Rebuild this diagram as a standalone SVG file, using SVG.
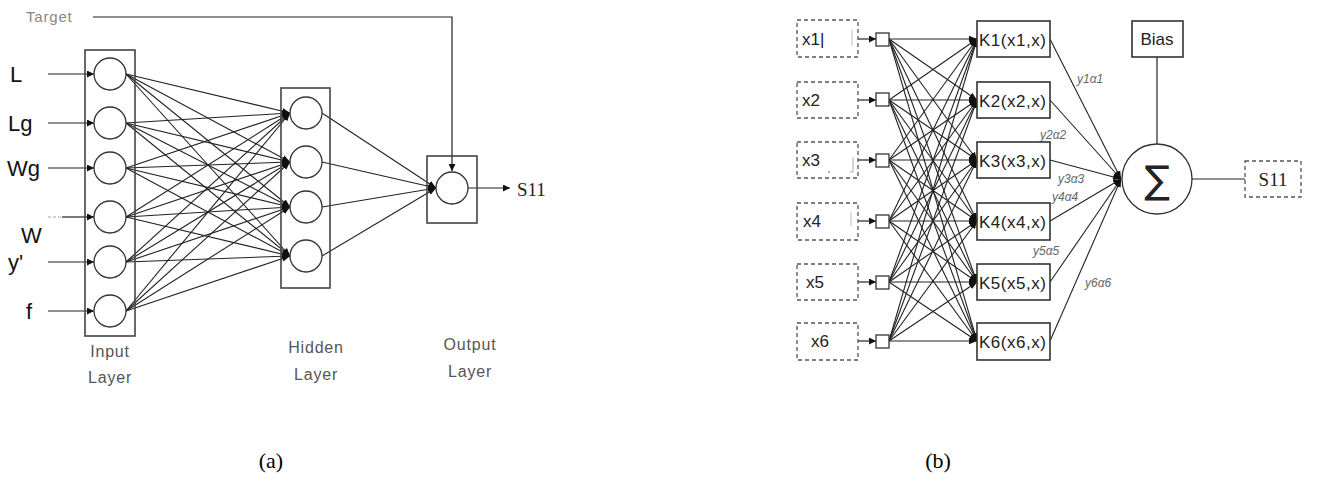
<svg xmlns="http://www.w3.org/2000/svg" width="1324" height="481" viewBox="0 0 1324 481">
<style>
.box{fill:none;stroke:#444;stroke-width:1.6}
.neuron{fill:#fff;stroke:#333;stroke-width:1.3}
.dbox{fill:#fff;stroke:#555;stroke-width:1.3;stroke-dasharray:4,3}
.kbox{fill:#fff;stroke:#333;stroke-width:1.6}
.sq{fill:#fff;stroke:#333;stroke-width:1.3}
.ln{fill:none;stroke:#222;stroke-width:1.2}
.lnA{fill:none;stroke:#222;stroke-width:1.2;marker-end:url(#ah)}
.lnD{fill:none;stroke:#222;stroke-width:1.1;marker-end:url(#dot)}
.lbl{font-family:"Liberation Sans",Arial,sans-serif;font-size:22px;fill:#111}
.gray{font-family:"Liberation Sans",Arial,sans-serif;font-size:16px;fill:#555;letter-spacing:0.8px}
.btxt{font-family:"Liberation Sans",Arial,sans-serif;font-size:17px;fill:#222}
.wt{font-family:"Liberation Sans",Arial,sans-serif;font-size:12px;font-style:italic;fill:#666}
.cap{font-family:"Liberation Serif","Times New Roman",serif;font-size:22px;fill:#000}
</style>
<defs>
<marker id="ah" viewBox="0 0 10 10" refX="10" refY="5" markerWidth="7" markerHeight="7" markerUnits="userSpaceOnUse" orient="auto"><path d="M0,0 L10,5 L0,10 z" fill="#111"/></marker>
<marker id="dot" viewBox="0 0 10 10" refX="10" refY="5" markerWidth="8" markerHeight="8" markerUnits="userSpaceOnUse" orient="auto"><path d="M0,1 L10,5 L0,9 z" fill="#111"/></marker>
</defs>

<!-- ===== Diagram (a) ===== -->
<g id="connectors-a">
<polyline class="lnA" points="93,17 452,17 452,171"/>
<line class="lnA" x1="48" y1="74" x2="94" y2="74"/>
<line class="lnA" x1="48" y1="123" x2="94" y2="123"/>
<line class="lnA" x1="48" y1="168" x2="94" y2="168"/>
<line x1="48" y1="217" x2="62" y2="217" stroke="#aaa" stroke-width="1.2" stroke-dasharray="3,2"/>
<line class="lnA" x1="62" y1="217" x2="94" y2="217"/>
<line class="lnA" x1="48" y1="262" x2="94" y2="262"/>
<line class="lnA" x1="48" y1="311" x2="94" y2="311"/>
<g>
<line class="lnD" x1="126" y1="74" x2="290" y2="113"/><line class="lnD" x1="126" y1="74" x2="290" y2="162"/><line class="lnD" x1="126" y1="74" x2="290" y2="207"/><line class="lnD" x1="126" y1="74" x2="290" y2="256"/>
<line class="lnD" x1="126" y1="123" x2="290" y2="113"/><line class="lnD" x1="126" y1="123" x2="290" y2="162"/><line class="lnD" x1="126" y1="123" x2="290" y2="207"/><line class="lnD" x1="126" y1="123" x2="290" y2="256"/>
<line class="lnD" x1="126" y1="168" x2="290" y2="113"/><line class="lnD" x1="126" y1="168" x2="290" y2="162"/><line class="lnD" x1="126" y1="168" x2="290" y2="207"/><line class="lnD" x1="126" y1="168" x2="290" y2="256"/>
<line class="lnD" x1="126" y1="217" x2="290" y2="113"/><line class="lnD" x1="126" y1="217" x2="290" y2="162"/><line class="lnD" x1="126" y1="217" x2="290" y2="207"/><line class="lnD" x1="126" y1="217" x2="290" y2="256"/>
<line class="lnD" x1="126" y1="262" x2="290" y2="113"/><line class="lnD" x1="126" y1="262" x2="290" y2="162"/><line class="lnD" x1="126" y1="262" x2="290" y2="207"/><line class="lnD" x1="126" y1="262" x2="290" y2="256"/>
<line class="lnD" x1="126" y1="311" x2="290" y2="113"/><line class="lnD" x1="126" y1="311" x2="290" y2="162"/><line class="lnD" x1="126" y1="311" x2="290" y2="207"/><line class="lnD" x1="126" y1="311" x2="290" y2="256"/>
</g>
<line class="lnD" x1="322" y1="113" x2="436" y2="188"/>
<line class="lnD" x1="322" y1="162" x2="436" y2="188"/>
<line class="lnD" x1="322" y1="207" x2="436" y2="188"/>
<line class="lnD" x1="322" y1="256" x2="436" y2="188"/>
<line class="lnA" x1="468" y1="188" x2="510" y2="188"/>
</g>

<g id="target-label"><text x="26" y="22" font-family="Liberation Sans,Arial,sans-serif" font-size="15" fill="#888" letter-spacing="0.8">Target</text></g>

<g id="input-labels">
<text class="lbl" x="10" y="82">L</text>
<text class="lbl" x="8" y="131">Lg</text>
<text class="lbl" x="7" y="176">Wg</text>
<text class="lbl" x="21" y="243">W</text>
<text class="lbl" x="8" y="270">y'</text>
<text class="lbl" x="26" y="319">f</text>
</g>

<g id="input-layer">
<rect class="box" x="85" y="50" width="50" height="286"/>
<circle class="neuron" cx="110" cy="74" r="16"/>
<circle class="neuron" cx="110" cy="123" r="16"/>
<circle class="neuron" cx="110" cy="168" r="16"/>
<circle class="neuron" cx="110" cy="217" r="16"/>
<circle class="neuron" cx="110" cy="262" r="16"/>
<circle class="neuron" cx="110" cy="311" r="16"/>
<text class="gray" x="110" y="357" text-anchor="middle">Input</text>
<text class="gray" x="110" y="383" text-anchor="middle">Layer</text>
</g>

<g id="hidden-layer">
<rect class="box" x="281" y="88" width="49" height="200"/>
<circle class="neuron" cx="306" cy="113" r="16"/>
<circle class="neuron" cx="306" cy="162" r="16"/>
<circle class="neuron" cx="306" cy="207" r="16"/>
<circle class="neuron" cx="306" cy="256" r="16"/>
<text class="gray" x="316" y="353" text-anchor="middle">Hidden</text>
<text class="gray" x="316" y="380" text-anchor="middle">Layer</text>
</g>

<g id="output-layer">
<rect class="box" x="427" y="156" width="50" height="67"/>
<circle class="neuron" cx="452" cy="188" r="16"/>
<text class="gray" x="470" y="350" text-anchor="middle" fill="#888">Output</text>
<text class="gray" x="470" y="377" text-anchor="middle">Layer</text>
</g>

<g id="output-s11-a"><text x="517" y="196" font-family="Liberation Serif,serif" font-size="19" fill="#222">S11</text></g>

<!-- ===== Diagram (b) ===== -->
<g id="connectors-b">
<line class="lnA" x1="858" y1="39" x2="876" y2="39"/>
<line class="lnA" x1="858" y1="100" x2="876" y2="100"/>
<line class="lnA" x1="858" y1="160" x2="876" y2="160"/>
<line class="lnA" x1="858" y1="221" x2="876" y2="221"/>
<line class="lnA" x1="858" y1="282" x2="876" y2="282"/>
<line class="lnA" x1="858" y1="341" x2="876" y2="341"/>
<g>
<line class="lnD" x1="889" y1="39" x2="977" y2="39"/><line class="lnD" x1="889" y1="39" x2="977" y2="100"/><line class="lnD" x1="889" y1="39" x2="977" y2="160"/><line class="lnD" x1="889" y1="39" x2="977" y2="221"/><line class="lnD" x1="889" y1="39" x2="977" y2="282"/><line class="lnD" x1="889" y1="39" x2="977" y2="341"/>
<line class="lnD" x1="889" y1="100" x2="977" y2="39"/><line class="lnD" x1="889" y1="100" x2="977" y2="100"/><line class="lnD" x1="889" y1="100" x2="977" y2="160"/><line class="lnD" x1="889" y1="100" x2="977" y2="221"/><line class="lnD" x1="889" y1="100" x2="977" y2="282"/><line class="lnD" x1="889" y1="100" x2="977" y2="341"/>
<line class="lnD" x1="889" y1="160" x2="977" y2="39"/><line class="lnD" x1="889" y1="160" x2="977" y2="100"/><line class="lnD" x1="889" y1="160" x2="977" y2="160"/><line class="lnD" x1="889" y1="160" x2="977" y2="221"/><line class="lnD" x1="889" y1="160" x2="977" y2="282"/><line class="lnD" x1="889" y1="160" x2="977" y2="341"/>
<line class="lnD" x1="889" y1="221" x2="977" y2="39"/><line class="lnD" x1="889" y1="221" x2="977" y2="100"/><line class="lnD" x1="889" y1="221" x2="977" y2="160"/><line class="lnD" x1="889" y1="221" x2="977" y2="221"/><line class="lnD" x1="889" y1="221" x2="977" y2="282"/><line class="lnD" x1="889" y1="221" x2="977" y2="341"/>
<line class="lnD" x1="889" y1="282" x2="977" y2="39"/><line class="lnD" x1="889" y1="282" x2="977" y2="100"/><line class="lnD" x1="889" y1="282" x2="977" y2="160"/><line class="lnD" x1="889" y1="282" x2="977" y2="221"/><line class="lnD" x1="889" y1="282" x2="977" y2="282"/><line class="lnD" x1="889" y1="282" x2="977" y2="341"/>
<line class="lnD" x1="889" y1="341" x2="977" y2="39"/><line class="lnD" x1="889" y1="341" x2="977" y2="100"/><line class="lnD" x1="889" y1="341" x2="977" y2="160"/><line class="lnD" x1="889" y1="341" x2="977" y2="221"/><line class="lnD" x1="889" y1="341" x2="977" y2="282"/><line class="lnD" x1="889" y1="341" x2="977" y2="341"/>
</g>
<line class="lnD" x1="1050" y1="39" x2="1121" y2="179"/>
<line class="lnD" x1="1050" y1="100" x2="1121" y2="179"/>
<line class="lnD" x1="1050" y1="160" x2="1121" y2="179"/>
<line class="lnD" x1="1050" y1="221" x2="1121" y2="179"/>
<line class="lnD" x1="1050" y1="282" x2="1121" y2="179"/>
<line class="lnD" x1="1050" y1="341" x2="1121" y2="179"/>
<line class="ln" x1="1157" y1="57" x2="1157" y2="144"/>
<line class="ln" x1="1192" y1="179" x2="1245" y2="179"/>
</g>

<g id="weights">
<text class="wt" x="1077" y="83">y1α1</text>
<text class="wt" x="1040" y="139">y2α2</text>
<text class="wt" x="1058" y="183">y3α3</text>
<text class="wt" x="1052" y="201">y4α4</text>
<text class="wt" x="1033" y="255">y5α5</text>
<text class="wt" x="1085" y="287">y6α6</text>
</g>

<g id="x-inputs">
<rect class="dbox" x="797" y="20" width="61" height="37"/>
<text class="btxt" x="802" y="45">x1|</text>
<line x1="852" y1="30" x2="852" y2="46" stroke="#bbb" stroke-width="1"/>
<rect class="dbox" x="797" y="82" width="61" height="36"/>
<text class="btxt" x="802" y="106">x2</text>
<rect class="dbox" x="797" y="142" width="61" height="36"/>
<text class="btxt" x="802" y="166">x3</text>
<line x1="828" y1="172" x2="830" y2="172" stroke="#999" stroke-width="1.5"/>
<line x1="850" y1="172" x2="853" y2="172" stroke="#aaa" stroke-width="1"/>
<line x1="853" y1="157" x2="853" y2="172" stroke="#aaa" stroke-width="1"/>
<rect class="dbox" x="797" y="203" width="61" height="37"/>
<text class="btxt" x="803" y="227">x4</text>
<line x1="851" y1="212" x2="851" y2="226" stroke="#bbb" stroke-width="1"/>
<rect class="dbox" x="797" y="264" width="61" height="36"/>
<text class="btxt" x="806" y="288">x5</text>
<rect class="dbox" x="797" y="323" width="61" height="37"/>
<text class="btxt" x="811" y="347">x6</text>
</g>

<g id="squares">
<rect class="sq" x="876" y="33" width="13" height="13"/>
<rect class="sq" x="876" y="93" width="13" height="13"/>
<rect class="sq" x="876" y="154" width="13" height="13"/>
<rect class="sq" x="876" y="215" width="13" height="13"/>
<rect class="sq" x="876" y="276" width="13" height="13"/>
<rect class="sq" x="876" y="335" width="13" height="13"/>
</g>

<g id="kernels">
<rect class="kbox" x="977" y="21" width="73" height="36"/>
<text class="btxt" x="979" y="46" textLength="67">K1(x1,x)</text>
<rect class="kbox" x="977" y="82" width="73" height="36"/>
<text class="btxt" x="979" y="107" textLength="67">K2(x2,x)</text>
<rect class="kbox" x="977" y="142" width="73" height="36"/>
<text class="btxt" x="979" y="167" textLength="67">K3(x3,x)</text>
<rect class="kbox" x="977" y="203" width="73" height="37"/>
<text class="btxt" x="979" y="228" textLength="67">K4(x4,x)</text>
<rect class="kbox" x="977" y="264" width="73" height="36"/>
<text class="btxt" x="979" y="289" textLength="67">K5(x5,x)</text>
<rect class="kbox" x="977" y="323" width="73" height="37"/>
<text class="btxt" x="979" y="348" textLength="67">K6(x6,x)</text>
</g>

<g id="bias">
<rect class="kbox" x="1132" y="21" width="51" height="36"/>
<text class="btxt" x="1157" y="45" text-anchor="middle" font-size="16">Bias</text>
</g>

<g id="sum">
<circle class="neuron" cx="1157" cy="179" r="35" stroke-width="1.5"/>
<text x="1157" y="193" text-anchor="middle" font-family="DejaVu Sans,sans-serif" font-size="38" fill="#222">∑</text>
</g>

<g id="output-s11-b">
<rect class="dbox" x="1245" y="161" width="56" height="36"/>
<text x="1273" y="186" text-anchor="middle" font-family="Liberation Serif,serif" font-size="19" fill="#222">S11</text>
</g>

<g id="captions">
<text class="cap" x="271" y="468" text-anchor="middle">(a)</text>
<text class="cap" x="938" y="468" text-anchor="middle">(b)</text>
</g>
</svg>
